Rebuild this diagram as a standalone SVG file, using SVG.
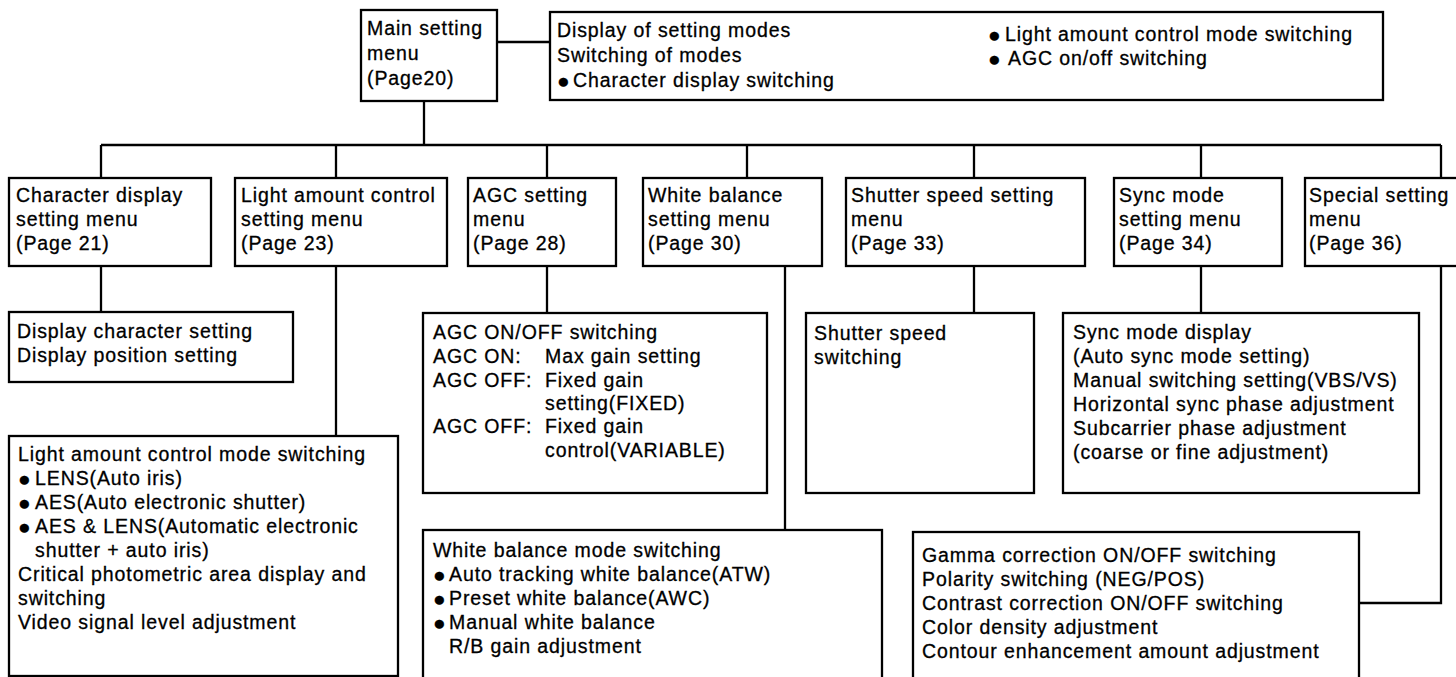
<svg xmlns="http://www.w3.org/2000/svg" width="1456" height="677" viewBox="0 0 1456 677">
<style>
.box{fill:#fff;stroke:#000;stroke-width:2.3}
.ln{fill:none;stroke:#000;stroke-width:2.3}
text{font-family:"Liberation Sans",Arial,sans-serif;font-size:19.5px;letter-spacing:0.9px;fill:#000;stroke:#000;stroke-width:0.3}
.b{font-size:21px;letter-spacing:0}
</style>
<rect width="1456" height="677" fill="#fff"/>
<g id="connectors">
<path class="ln" d="M497,42 H550"/>
<path class="ln" d="M424,101 V145"/>
<path class="ln" d="M101,145 H1441"/>
<path class="ln" d="M101,145 V178 M336,145 V178 M547,145 V178 M747,145 V178 M974,145 V178 M1201,145 V178 M1441,145 V178"/>
<path class="ln" d="M101,266 V312"/>
<path class="ln" d="M336,266 V436"/>
<path class="ln" d="M547,266 V313"/>
<path class="ln" d="M785,266 V530"/>
<path class="ln" d="M974,266 V313"/>
<path class="ln" d="M1201,266 V313"/>
<path class="ln" d="M1441,266 V603 H1359"/>
</g>
<g id="main">
<rect class="box" x="361" y="10" width="136" height="91"/>
<text x="367" y="35">Main setting</text>
<text x="367" y="60">menu</text>
<text x="367" y="85">(Page20)</text>
</g>
<g id="main-detail">
<rect class="box" x="550" y="12" width="833" height="88"/>
<text x="557" y="37">Display of setting modes</text>
<text x="557" y="62">Switching of modes</text>
<text y="87"><tspan class="b" x="557" dy="1">●</tspan><tspan x="573" dy="-1">Character display switching</tspan></text>
<text y="41"><tspan class="b" x="988" dy="1">●</tspan><tspan x="1005" dy="-1">Light amount control mode switching</tspan></text>
<text y="65"><tspan class="b" x="988" dy="1">●</tspan><tspan x="1008" dy="-1">AGC on/off switching</tspan></text>
</g>
<g id="char-menu">
<rect class="box" x="9" y="178" width="202" height="88"/>
<text x="16" y="202">Character display</text>
<text x="16" y="226">setting menu</text>
<text x="16" y="250">(Page 21)</text>
</g>
<g id="light-menu">
<rect class="box" x="235" y="178" width="212" height="88"/>
<text x="241" y="202">Light amount control</text>
<text x="241" y="226">setting menu</text>
<text x="241" y="250">(Page 23)</text>
</g>
<g id="agc-menu">
<rect class="box" x="468" y="178" width="148" height="88"/>
<text x="473" y="202">AGC setting</text>
<text x="473" y="226">menu</text>
<text x="473" y="250">(Page 28)</text>
</g>
<g id="wb-menu">
<rect class="box" x="643" y="178" width="179" height="88"/>
<text x="648" y="202">White balance</text>
<text x="648" y="226">setting menu</text>
<text x="648" y="250">(Page 30)</text>
</g>
<g id="shutter-menu">
<rect class="box" x="846" y="178" width="239" height="88"/>
<text x="851" y="202">Shutter speed setting</text>
<text x="851" y="226">menu</text>
<text x="851" y="250">(Page 33)</text>
</g>
<g id="sync-menu">
<rect class="box" x="1114" y="178" width="168" height="88"/>
<text x="1119" y="202">Sync mode</text>
<text x="1119" y="226">setting menu</text>
<text x="1119" y="250">(Page 34)</text>
</g>
<g id="special-menu">
<rect class="box" x="1305" y="178" width="160" height="88"/>
<text x="1309" y="202">Special setting</text>
<text x="1309" y="226">menu</text>
<text x="1309" y="250">(Page 36)</text>
</g>
<g id="char-detail">
<rect class="box" x="9" y="312" width="284" height="70"/>
<text x="17" y="338">Display character setting</text>
<text x="17" y="362">Display position setting</text>
</g>
<g id="light-detail">
<rect class="box" x="9" y="436" width="389" height="240"/>
<text x="18" y="461">Light amount control mode switching</text>
<text y="485"><tspan class="b" x="18" dy="1">●</tspan><tspan x="35" dy="-1">LENS(Auto iris)</tspan></text>
<text y="509"><tspan class="b" x="18" dy="1">●</tspan><tspan x="35" dy="-1">AES(Auto electronic shutter)</tspan></text>
<text y="533"><tspan class="b" x="18" dy="1">●</tspan><tspan x="35" dy="-1">AES &amp; LENS(Automatic electronic</tspan></text>
<text x="35" y="557">shutter  +  auto iris)</text>
<text x="18" y="581">Critical photometric area display and</text>
<text x="18" y="605">switching</text>
<text x="18" y="629">Video signal level adjustment</text>
</g>
<g id="agc-detail">
<rect class="box" x="423" y="313" width="344" height="180"/>
<text x="433" y="339">AGC ON/OFF switching</text>
<text x="433" y="363">AGC ON:</text><text x="545" y="363">Max gain setting</text>
<text x="433" y="387">AGC OFF:</text><text x="545" y="387">Fixed gain</text>
<text x="545" y="410">setting(FIXED)</text>
<text x="433" y="433">AGC OFF:</text><text x="545" y="433">Fixed gain</text>
<text x="545" y="457">control(VARIABLE)</text>
</g>
<g id="wb-detail">
<rect class="box" x="423" y="530" width="459" height="160"/>
<text x="433" y="557">White balance mode switching</text>
<text y="581"><tspan class="b" x="433" dy="1">●</tspan><tspan x="449" dy="-1">Auto tracking white balance(ATW)</tspan></text>
<text y="605"><tspan class="b" x="433" dy="1">●</tspan><tspan x="449" dy="-1">Preset white balance(AWC)</tspan></text>
<text y="629"><tspan class="b" x="433" dy="1">●</tspan><tspan x="449" dy="-1">Manual white balance</tspan></text>
<text x="449" y="653">R/B gain adjustment</text>
</g>
<g id="shutter-detail">
<rect class="box" x="806" y="313" width="228" height="180"/>
<text x="814" y="340">Shutter speed</text>
<text x="814" y="364">switching</text>
</g>
<g id="sync-detail">
<rect class="box" x="1063" y="313" width="356" height="180"/>
<text x="1073" y="339">Sync mode display</text>
<text x="1073" y="363">(Auto sync mode setting)</text>
<text x="1073" y="387">Manual switching setting(VBS/VS)</text>
<text x="1073" y="411">Horizontal sync phase adjustment</text>
<text x="1073" y="435">Subcarrier phase adjustment</text>
<text x="1073" y="459">(coarse or fine adjustment)</text>
</g>
<g id="special-detail">
<rect class="box" x="913" y="532" width="446" height="160"/>
<text x="922" y="562">Gamma correction ON/OFF switching</text>
<text x="922" y="586">Polarity switching (NEG/POS)</text>
<text x="922" y="610">Contrast correction ON/OFF switching</text>
<text x="922" y="634">Color density adjustment</text>
<text x="922" y="658">Contour enhancement amount adjustment</text>
</g>
</svg>
